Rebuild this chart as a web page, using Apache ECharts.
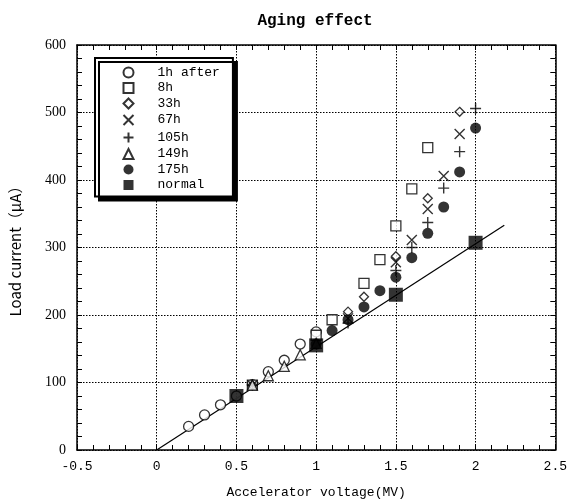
<!DOCTYPE html>
<html>
<head>
<meta charset="utf-8">
<script src="https://cdn.jsdelivr.net/npm/echarts@6/dist/echarts.min.js"></script>
<style>html,body{margin:0;padding:0;background:#fff;}#c{width:570px;height:504px;}</style>
</head>
<body>
<div id="c"></div>
<script>
// ---- data (voltage MV, load current uA) ----
const s1h   = [[0.2,35],[0.3,52],[0.4,67],[0.5,80],[0.6,97],[0.7,116],[0.8,133],[0.9,157],[1.0,175]];
const s8h   = [[0.6,96],[1.0,170],[1.1,193],[1.3,247],[1.4,282],[1.5,332],[1.6,387],[1.7,448]];
const s33h  = [[0.6,96],[1.2,205],[1.3,227],[1.5,287],[1.7,373],[1.9,501]];
const s67h  = [[0.6,96],[1.2,195],[1.5,278],[1.6,311],[1.7,357],[1.8,406],[1.9,468]];
const s105h = [[0.6,96],[1.2,188],[1.5,266],[1.6,300],[1.7,337],[1.8,388],[1.9,442],[2.0,506]];
const s149h = [[0.6,96],[0.7,110],[0.8,124],[0.9,141],[1.0,158]];
const s175h = [[1.0,157],[1.1,177],[1.2,193],[1.3,212],[1.4,236],[1.5,256],[1.6,285],[1.7,321],[1.8,360],[1.9,412],[2.0,477]];
const sNormal = [[0.5,80],[1.0,155],[1.5,230],[2.0,307]];
const fitLine = [[0,0],[2.18,333]];
const seriesNames = ['1h after','8h','33h','67h','105h','149h','175h','normal'];
const xRange = {min:-0.5, max:2.5, interval:0.5};
const yRange = {min:0, max:600, interval:100};

const monoFont = '"Liberation Mono", monospace';
const hollow = {color:'#fff', borderColor:'#000', borderWidth:1.3};
const stroke = {color:'none', borderColor:'#000', borderWidth:1.4};
const crossPath = 'path://M0,0L10,10M0,10L10,0';
const plusPath = 'path://M5,0L5,10M0,5L10,5';

function sc(name, data, symbol, size, style, z){
  return {type:'scatter', name, data, symbol, symbolSize:size, itemStyle:style, z:z||2,
          symbolKeepAspect:true, emphasis:{disabled:true}};
}

const axisCommon = {
  axisLine:{show:true, onZero:false, lineStyle:{color:'#000', width:1.5}},
  axisTick:{show:true, inside:true, length:5, lineStyle:{color:'#000', width:1}},
  minorTick:{show:true, splitNumber:5, length:5, lineStyle:{color:'#000', width:1}},
};

const chart = echarts.init(document.getElementById('c'), null, {renderer:'canvas'});
chart.setOption({
  animation:false,
  backgroundColor:'#fff',
  title:{text:'Aging effect', left:310, top:8, textAlign:'center',
         textStyle:{fontFamily:monoFont, fontWeight:'bold', fontSize:16, color:'#000'}},
  grid:{left:76, right:13, top:45, bottom:54},
  legend:{
    orient:'vertical', left:95, top:58, data:seriesNames,
    padding:[8,13,5,26], itemWidth:10, itemHeight:10, itemGap:2.5,
    backgroundColor:'#fff', borderColor:'#000', borderWidth:2,
    shadowColor:'#000', shadowBlur:0, shadowOffsetX:4, shadowOffsetY:4,
    textStyle:{fontFamily:monoFont, fontSize:13, color:'#000', padding:[0,0,0,19]},
    selectedMode:false
  },
  xAxis:[
    Object.assign({type:'value', min:xRange.min, max:xRange.max, interval:xRange.interval,
      name:'Accelerator voltage(MV)', nameLocation:'middle', nameGap:36,
      nameTextStyle:{fontFamily:monoFont, fontSize:13, color:'#000'},
      axisLabel:{fontFamily:monoFont, fontSize:13, color:'#000', margin:10},
      splitLine:{show:true, lineStyle:{color:'#000', type:[1.5,1.5], width:1}}}, axisCommon),
    Object.assign({type:'value', position:'top', min:xRange.min, max:xRange.max, interval:xRange.interval,
      axisLabel:{show:false}, splitLine:{show:false}}, axisCommon)
  ],
  yAxis:[
    Object.assign({type:'value', min:yRange.min, max:yRange.max, interval:yRange.interval,
      name:'Load current（μA）', nameLocation:'middle', nameGap:54,
      nameTextStyle:{fontFamily:'"Noto Sans CJK SC", sans-serif', fontSize:15, color:'#000'},
      axisLabel:{fontFamily:'"Liberation Serif", serif', fontSize:14, color:'#000', margin:11},
      splitLine:{show:true, lineStyle:{color:'#000', type:[1.5,1.5], width:1}}}, axisCommon),
    Object.assign({type:'value', position:'right', min:yRange.min, max:yRange.max, interval:yRange.interval,
      axisLabel:{show:false}, splitLine:{show:false}}, axisCommon)
  ],
  series:[
    {type:'line', data:fitLine, symbol:'none', lineStyle:{color:'#000', width:1.2}, z:1, silent:true},
    sc('1h after', s1h, 'circle', 10, hollow),
    sc('8h', s8h, 'rect', 10, hollow),
    sc('33h', s33h, 'diamond', 9, hollow),
    sc('67h', s67h, crossPath, 10, stroke),
    sc('105h', s105h, plusPath, 11, stroke),
    sc('149h', s149h, 'triangle', 10, hollow),
    sc('175h', s175h, 'circle', 11, {color:'#000', borderColor:'#000', borderWidth:0}),
    sc('normal', sNormal, 'rect', 14, {color:'#000', borderColor:'#000', borderWidth:0}, 3)
  ]
});
</script>
</body>
</html>
